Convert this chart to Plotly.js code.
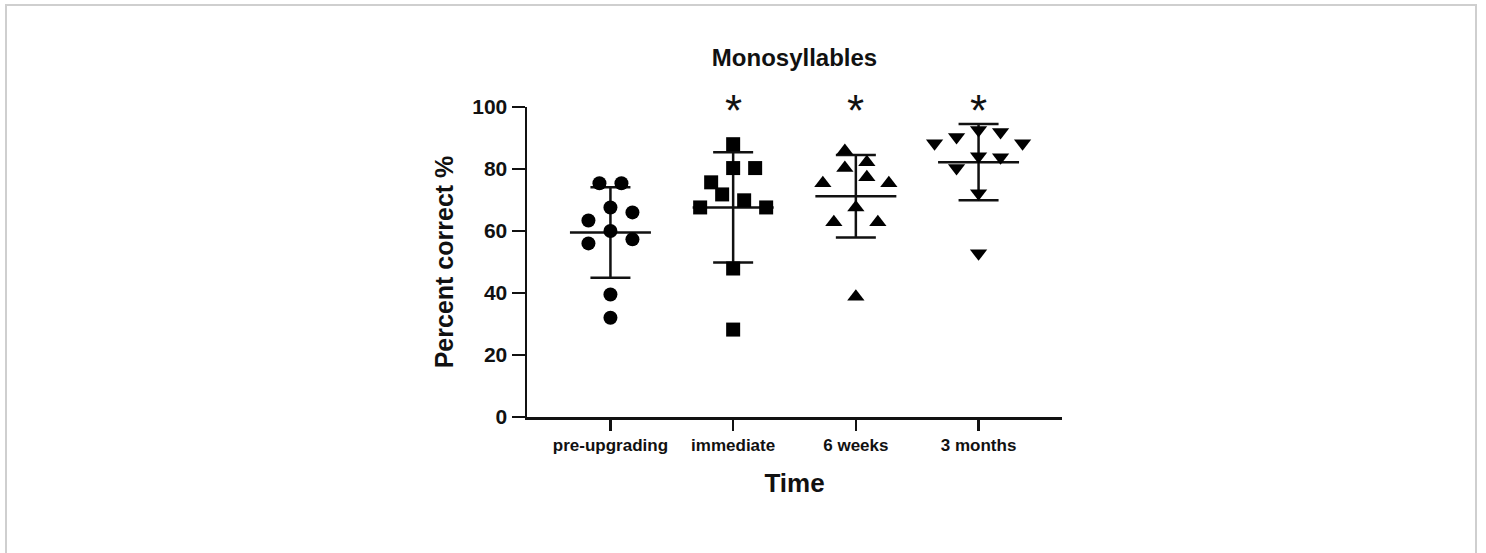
<!DOCTYPE html>
<html>
<head>
<meta charset="utf-8">
<script src="https://cdn.plot.ly/plotly-3.0.1.min.js"></script>
<style>
  html, body { margin: 0; padding: 0; background: #ffffff; }
  #wrap { position: relative; width: 1486px; height: 553px; overflow: hidden; }
  #frame { position: absolute; left: 5px; top: 4px; width: 1472px; height: 560px;
           border: 2px solid #cfcfcf; box-sizing: border-box; }
  #chart { position: absolute; left: 0; top: 0; width: 1486px; height: 553px; }
</style>
</head>
<body>
<div id="wrap">
  <div id="frame"></div>
  <div id="chart"></div>
</div>
<script>
// ---- data ----
const categories = ['pre-upgrading', 'immediate', '6 weeks', '3 months'];
const preUpgrading = [75.4, 75.4, 67.6, 66.0, 63.4, 60.0, 57.3, 56.0, 39.5, 32.0];
const immediate    = [88.0, 80.3, 80.3, 75.7, 71.8, 69.9, 67.6, 67.6, 47.9, 28.2];
const sixWeeks     = [85.8, 82.2, 80.3, 77.3, 75.4, 75.4, 67.6, 62.8, 62.8, 38.8];
const threeMonths  = [92.6, 91.9, 90.3, 88.3, 88.3, 84.1, 83.8, 80.3, 72.2, 52.8];
const means        = [59.5, 67.6, 71.2, 82.2];
const sds          = [14.6, 17.8, 13.3, 12.3];
const significance = ['', '*', '*', '*'];
const yTicks       = [0, 20, 40, 60, 80, 100];

// ---- presentation ----
const groups = [preUpgrading, immediate, sixWeeks, threeMonths];
const symbols = ['circle', 'square', 'triangle-up', 'triangle-down'];
const symbolSizes = [14, 14, 15, 15];
const xRange = [-0.68, 3.68];
const plotWidthPx = 535;
const yRange = [0, 100];
const unitPerPx = (xRange[1] - xRange[0]) / plotWidthPx;
const spreadPx = 22;         // horizontal spacing inside a row of the dot plot
const rowTolerance = 5;      // values closer than this share a row (in % units)
const sigLevel = 101.3;      // height (in % units) where the significance marks sit

// simple row-based scatter spread (like a column scatter plot)
function spread(values) {
  const idx = values.map((v, i) => i).sort((a, b) => values[b] - values[a]);
  const offsets = new Array(values.length).fill(0);
  let i = 0;
  while (i < idx.length) {
    const row = [idx[i]];
    let j = i + 1;
    while (j < idx.length && values[idx[i]] - values[idx[j]] < rowTolerance) { row.push(idx[j]); j++; }
    const n = row.length;
    let slots = [];
    if (n % 2 === 1) {
      slots.push(0);
      for (let k = 1; slots.length < n; k++) { slots.push(k); if (slots.length < n) slots.push(-k); }
    } else {
      for (let k = 0; slots.length < n; k++) { slots.push(-(k + 0.5)); slots.push(k + 0.5); }
    }
    row.forEach((p, r) => { offsets[p] = slots[r] * spreadPx * unitPerPx; });
    i = j;
  }
  return offsets;
}

const traces = [];
const meanHalf = 0.33;
// mean lines
const mlx = [], mly = [];
means.forEach((m, g) => { mlx.push(g - meanHalf, g + meanHalf, null); mly.push(m, m, null); });
traces.push({ x: mlx, y: mly, mode: 'lines', line: { color: '#111', width: 2.5 },
  hoverinfo: 'skip', showlegend: false, cliponaxis: false });
// SD error bars
traces.push({ x: categories.map((c, g) => g), y: means, mode: 'markers',
  marker: { size: 1, color: 'rgba(0,0,0,0)' },
  error_y: { type: 'data', array: sds, visible: true, color: '#111', thickness: 2.5, width: 20 },
  hoverinfo: 'skip', showlegend: false, cliponaxis: false });
// individual points
groups.forEach((vals, g) => {
  const off = spread(vals);
  traces.push({ x: vals.map((v, i) => g + off[i]), y: vals, mode: 'markers',
    marker: { symbol: symbols[g], size: symbolSizes[g], color: '#000', line: { width: 0 } },
    hoverinfo: 'skip', showlegend: false, cliponaxis: false });
});

const font = 'Liberation Sans, Arial, Helvetica, sans-serif';
const annotations = significance.map((s, g) => ({
  x: g, xref: 'x', y: (sigLevel - yRange[0]) / (yRange[1] - yRange[0]), yref: 'paper',
  text: s, showarrow: false,
  font: { family: font, size: 44, color: '#111' }, yanchor: 'middle', yshift: -8
})).filter(a => a.text);

const layout = {
  width: 1486, height: 553,
  paper_bgcolor: 'rgba(0,0,0,0)', plot_bgcolor: 'rgba(0,0,0,0)',
  margin: { l: 527, r: 424, t: 107, b: 136, pad: 0 },
  showlegend: false,
  font: { family: font, color: '#111' },
  title: { text: 'Monosyllables', x: 0.5, xref: 'paper', y: 1 - 58 / 553, yref: 'container',
           yanchor: 'middle', font: { family: font, size: 24, weight: 700, color: '#111' } },
  xaxis: {
    range: xRange, tickmode: 'array', tickvals: categories.map((c, g) => g), ticktext: categories,
    showline: true, linecolor: '#111', linewidth: 2.5, ticks: 'outside', ticklen: 11,
    tickwidth: 2.5, tickcolor: '#111', showgrid: false, zeroline: false,
    tickfont: { family: font, size: 17, weight: 700, color: '#111' },
    title: { text: 'Time', standoff: 20, font: { family: font, size: 26, weight: 700, color: '#111' } },
    fixedrange: true
  },
  yaxis: {
    range: yRange, tickmode: 'array', tickvals: yTicks,
    showline: true, linecolor: '#111', linewidth: 2.5, ticks: 'outside', ticklen: 13,
    tickwidth: 2.5, tickcolor: '#111', showgrid: false, zeroline: false,
    tickfont: { family: font, size: 21, weight: 700, color: '#111' },
    title: { text: 'Percent correct %', standoff: 12, font: { family: font, size: 25, weight: 700, color: '#111' } },
    fixedrange: true
  },
  annotations: annotations
};

Plotly.newPlot('chart', traces, layout, { displayModeBar: false, staticPlot: true });
</script>
</body>
</html>
